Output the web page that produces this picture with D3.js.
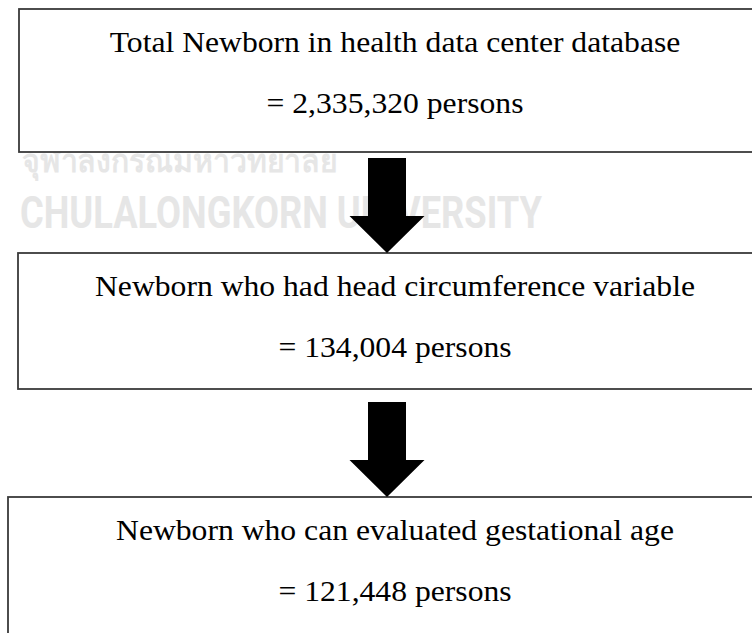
<!DOCTYPE html>
<html>
<head>
<meta charset="utf-8">
<script src="https://cdn.jsdelivr.net/npm/d3@7"></script>
<style>
  html, body { margin: 0; padding: 0; background: #fff; }
  svg { display: block; }
  .step-label { font-family: "Liberation Serif", "Times New Roman", serif; font-size: 30px; fill: #000; }
  .watermark { font-family: "Liberation Sans Narrow", "Roboto", sans-serif; font-weight: bold; fill: #e6e6e6; }
</style>
</head>
<body>
<div id="chart"></div>
<script>
// flow steps, top to bottom
const stepTitles = [
  "Total Newborn in health data center database",
  "Newborn who had head circumference variable",
  "Newborn who can evaluated gestational age"
];
const stepCounts = [2335320, 134004, 121448];
const countUnit = "persons";

const width = 752;
const height = 633;
const fmtCount = d3.format(",");

// layout
const boxLeft = [19, 18, 8];
const boxHeight = [143, 136, 200];
const textCenter = 395;
const arrowX = 387;

const svg = d3.select("#chart")
  .append("svg")
  .attr("width", width)
  .attr("height", height);

const y = d3.scaleLinear()
  .domain([0, stepTitles.length - 1])
  .range([9, 497]);

// faint watermark behind the chart
svg.append("text")
  .attr("class", "watermark")
  .attr("x", 22)
  .attr("y", 172)
  .attr("font-size", 32)
  .attr("textLength", 316)
  .attr("lengthAdjust", "spacingAndGlyphs")
  .text("จุฬาลงกรณ์มหาวิทยาลัย");

svg.append("text")
  .attr("class", "watermark")
  .attr("x", 20)
  .attr("y", 228)
  .attr("font-size", 44)
  .attr("textLength", 522)
  .attr("lengthAdjust", "spacingAndGlyphs")
  .text("CHULALONGKORN UNIVERSITY");

const steps = stepTitles.map((t, i) => ({ title: t, count: stepCounts[i], i }));

svg.append("g")
  .selectAll("rect")
  .data(steps)
  .join("rect")
  .attr("x", d => boxLeft[d.i])
  .attr("y", d => y(d.i))
  .attr("width", d => width + 20 - boxLeft[d.i])
  .attr("height", d => boxHeight[d.i])
  .attr("fill", "#fff")
  .attr("stroke", "#3a3a3a")
  .attr("stroke-width", 1.8);

const labels = svg.append("g")
  .selectAll("g")
  .data(steps)
  .join("g")
  .attr("transform", d => `translate(${textCenter},${y(d.i)}) scale(1.055,1)`);

labels.append("text")
  .attr("class", "step-label")
  .attr("text-anchor", "middle")
  .attr("y", 43)
  .text(d => d.title);

labels.append("text")
  .attr("class", "step-label")
  .attr("text-anchor", "middle")
  .attr("y", 104)
  .text(d => `= ${fmtCount(d.count)} ${countUnit}`);

// block arrows between the boxes
const arrowLen = 95, shaftW = 38, headW = 75, headLen = 37;
const arrowPath = d3.line();

svg.append("g")
  .selectAll("path")
  .data(steps.slice(1))
  .join("path")
  .attr("d", d => {
    const tip = y(d.i);
    const top = tip - arrowLen;
    const neck = tip - headLen;
    return arrowPath([
      [arrowX - shaftW / 2, top],
      [arrowX + shaftW / 2, top],
      [arrowX + shaftW / 2, neck],
      [arrowX + headW / 2, neck],
      [arrowX, tip],
      [arrowX - headW / 2, neck],
      [arrowX - shaftW / 2, neck]
    ]) + "Z";
  })
  .attr("fill", "#000");
</script>
</body>
</html>
